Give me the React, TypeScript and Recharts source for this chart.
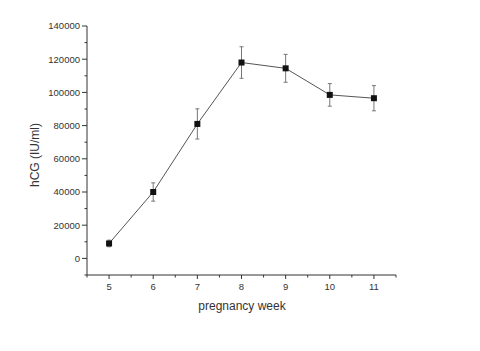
import React from 'react';
import { LineChart, Line, XAxis, YAxis, ErrorBar } from 'recharts';

const weeks = [5, 6, 7, 8, 9, 10, 11];
const hcg = [9000, 40000, 81000, 118000, 114500, 98500, 96500];
const hcgErr = [2000, 5500, 9100, 9500, 8400, 6800, 7600];
const xTicks = [4.5, 5, 5.5, 6, 6.5, 7, 7.5, 8, 8.5, 9, 9.5, 10, 10.5, 11, 11.5];
const yTicks = [-10000, 0, 10000, 20000, 30000, 40000, 50000, 60000, 70000, 80000, 90000, 100000, 110000, 120000, 130000, 140000];

const data = weeks.map((w, i) => ({ week: w, hcg: hcg[i], err: hcgErr[i] }));

const FONT = '"Liberation Sans", Arial, sans-serif';

const XTick = (props: any) => {
  const { x, y, payload } = props;
  const v = payload.value;
  const major = Number.isInteger(v);
  return (
    <g>
      <line x1={x} y1={y} x2={x} y2={y + (major ? 4 : 2.5)} stroke="#333" strokeWidth={1} />
      {major && (
        <text x={x} y={y + 15} textAnchor="middle" fontSize={9.5} fontFamily={FONT} fill="#333">
          {v}
        </text>
      )}
    </g>
  );
};

const YTick = (props: any) => {
  const { x, y, payload } = props;
  const v = payload.value;
  const major = v % 20000 === 0;
  return (
    <g>
      <line x1={x - (major ? 5 : 2.5)} y1={y} x2={x} y2={y} stroke="#333" strokeWidth={1} />
      {major && (
        <text x={x - 7} y={y + 3.3} textAnchor="end" fontSize={9.5} fontFamily={FONT} fill="#333">
          {v}
        </text>
      )}
    </g>
  );
};

const SquareDot = (props: any) => {
  const { cx, cy } = props;
  if (cx == null || cy == null) return null;
  return <rect x={cx - 3} y={cy - 3} width={6} height={6} fill="#111" />;
};

export default function App() {
  return (
    <div style={{ position: 'absolute', left: 0, top: 0, width: 480, height: 351, background: '#fff' }}>
      <LineChart width={480} height={351} data={data} margin={{ top: 26, right: 84, left: 0, bottom: 46 }}>
        <XAxis
          dataKey="week"
          type="number"
          domain={[4.5, 11.5]}
          ticks={xTicks}
          interval={0}
          tickSize={0}
          tickMargin={0}
          tickLine={false}
          tick={<XTick />}
          stroke="#333"
          height={30}
          allowDataOverflow
        />
        <YAxis
          type="number"
          domain={[-10000, 140000]}
          ticks={yTicks}
          interval={0}
          tickSize={0}
          tickMargin={0}
          tickLine={false}
          tick={<YTick />}
          stroke="#333"
          width={87}
          allowDataOverflow
        />
        <Line
          dataKey="hcg"
          stroke="#555"
          strokeWidth={1}
          dot={<SquareDot />}
          activeDot={false}
          isAnimationActive={false}
        >
          <ErrorBar dataKey="err" width={2} stroke="#777" strokeWidth={1} direction="y" />
        </Line>
      </LineChart>
      <div
        style={{
          position: 'absolute',
          left: 242,
          top: 306,
          transform: 'translate(-50%, -50%)',
          fontFamily: FONT,
          fontSize: 12,
          color: '#333',
          whiteSpace: 'nowrap',
        }}
      >
        pregnancy week
      </div>
      <div
        style={{
          position: 'absolute',
          left: 35,
          top: 155,
          transform: 'translate(-50%, -50%) rotate(-90deg)',
          fontFamily: FONT,
          fontSize: 12,
          color: '#333',
          whiteSpace: 'nowrap',
        }}
      >
        hCG (IU/ml)
      </div>
    </div>
  );
}
